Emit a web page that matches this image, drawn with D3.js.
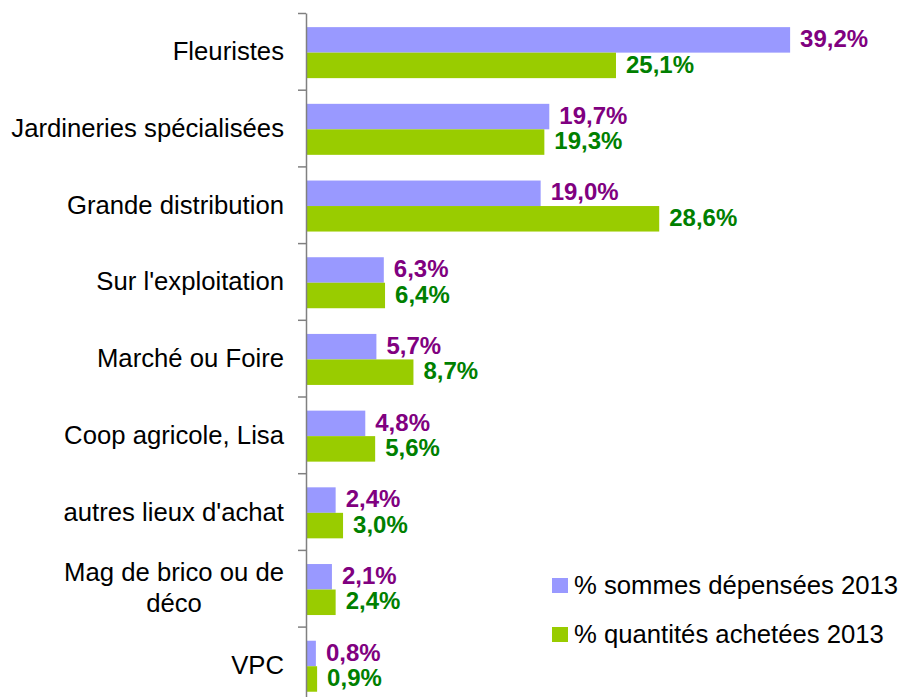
<!DOCTYPE html>
<html>
<head>
<meta charset="utf-8">
<script src="https://cdn.jsdelivr.net/npm/d3@7"></script>
<style>
  body { margin: 0; background: #fff; }
  svg { display: block; font-family: "Liberation Sans", Arial, sans-serif; }
</style>
</head>
<body>
<svg id="chart"></svg>
<script>
const categories = ["Fleuristes", "Jardineries spécialisées", "Grande distribution", "Sur l'exploitation",
  "Marché ou Foire", "Coop agricole, Lisa", "autres lieux d'achat", "Mag de brico ou de déco", "VPC"];
const sommes = [39.2, 19.7, 19.0, 6.3, 5.7, 4.8, 2.4, 2.1, 0.8];
const quantites = [25.1, 19.3, 28.6, 6.4, 8.7, 5.6, 3.0, 2.4, 0.9];
const seriesNames = ["% sommes dépensées 2013", "% quantités achetées 2013"];

const width = 906, height = 697;
const barColors = ["#9999ff", "#99cc00"];
const labelColors = ["#800080", "#008000"];

const svg = d3.select("#chart").attr("width", width).attr("height", height);

const x0 = 306;
const xscale = d3.scaleLinear().domain([0, 40]).range([x0, x0 + 40 * 12.35]);

const yscale = d3.scaleBand()
    .domain(categories)
    .range([13, 703.3])
    .paddingInner(0.335)
    .paddingOuter(0.1675)
    .align(0.55);

const sub = d3.scaleBand().domain([0, 1]).range([0, yscale.bandwidth()]);

const rows = categories.map((c, i) => ({ name: c, values: [sommes[i], quantites[i]] }));

const fmt = v => d3.format(".1f")(v).replace(".", ",") + "%";

// bars
const groups = svg.append("g").selectAll("g")
  .data(rows)
  .join("g")
    .attr("transform", d => `translate(0, ${yscale(d.name)})`);

groups.selectAll("rect")
  .data(d => d.values.map((v, k) => ({ v, k })))
  .join("rect")
    .attr("x", xscale(0))
    .attr("y", d => sub(d.k))
    .attr("width", d => xscale(d.v) - xscale(0))
    .attr("height", sub.bandwidth())
    .attr("fill", d => barColors[d.k]);

groups.selectAll("text")
  .data(d => d.values.map((v, k) => ({ v, k })))
  .join("text")
    .attr("x", d => xscale(d.v) + 10)
    .attr("y", d => sub(d.k) + sub.bandwidth() / 2)
    .attr("dy", "0.3em")
    .attr("font-size", "24px")
    .attr("font-weight", "bold")
    .attr("fill", d => labelColors[d.k])
    .text(d => fmt(d.v));

// category labels
const labelAxis = svg.append("g")
    .attr("transform", `translate(${x0}, 0)`)
    .call(d3.axisLeft(yscale).tickSize(0).tickPadding(22));
labelAxis.select(".domain").remove();
labelAxis.selectAll("text")
    .attr("font-size", "25.7px")
    .attr("font-family", "'Liberation Sans', Arial, sans-serif")
    .attr("fill", "#000")
    .attr("dy", "0.3em")
    .each(function(d) {
      const t = d3.select(this);
      if (this.getComputedTextLength() < 280) return;
      const words = d.split(" ");
      const lines = [[]];
      t.text(null);
      const probe = t.append("tspan");
      words.forEach(w => {
        const cur = lines[lines.length - 1];
        probe.text(cur.concat(w).join(" "));
        if (probe.node().getComputedTextLength() > 280 && cur.length) lines.push([w]);
        else cur.push(w);
      });
      probe.text(lines[0].join(" "));
      const w0 = probe.node().getComputedTextLength();
      probe.remove();
      const lh = 31;
      const cx = -22 - w0 / 2;
      t.attr("text-anchor", "middle").attr("dy", null);
      lines.forEach((ln, i) => {
        t.append("tspan")
          .attr("x", cx)
          .attr("y", -lh * (lines.length - 1) / 2 + i * lh - 1)
          .attr("dy", "0.3em")
          .text(ln.join(" "));
      });
    });

// axis line with ticks at category boundaries
const bscale = d3.scaleLinear().domain([0, categories.length]).range([13, 703.3]);
const tickAxis = svg.append("g")
    .attr("transform", `translate(${x0}, 0)`)
    .call(d3.axisLeft(bscale).tickValues(d3.range(categories.length + 1)).tickSize(8).tickSizeOuter(0).tickFormat(""));
tickAxis.selectAll("line, path").attr("stroke", "#808080").attr("stroke-width", 1.5);

// legend
const legend = svg.append("g").selectAll("g")
  .data(seriesNames)
  .join("g")
    .attr("transform", (d, i) => `translate(552, ${578 + i * 49})`);
legend.append("rect")
    .attr("width", 16).attr("height", 15)
    .attr("fill", (d, i) => barColors[i]);
legend.append("text")
    .attr("x", 22).attr("y", 7.5)
    .attr("dy", "0.33em")
    .attr("font-size", "25.7px")
    .attr("fill", "#000")
    .text(d => d);
</script>
</body>
</html>
